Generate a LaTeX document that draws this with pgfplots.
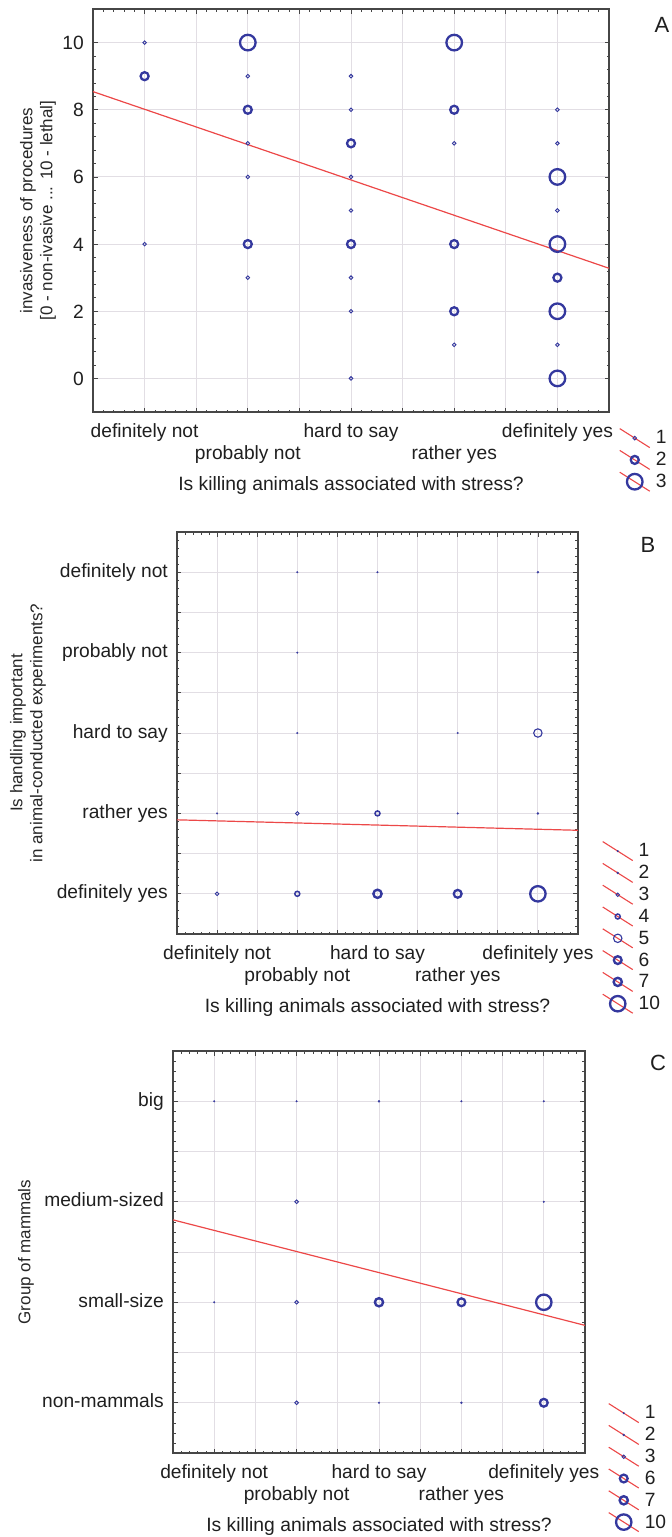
\documentclass[border=0pt]{standalone}
\usepackage{fontspec}
\setmainfont{Liberation Sans}
\usepackage{pgfplots}
\pgfplotsset{compat=1.18}
\definecolor{ptblue}{RGB}{52,56,158}
\definecolor{regred}{RGB}{236,72,72}
\definecolor{gridc}{RGB}{226,222,228}
\definecolor{axc}{RGB}{70,70,70}
\newcommand\tickfont{\fontsize{19.2}{22}\selectfont}
\newcommand\labfont{\fontsize{17}{20}\selectfont}
\newcommand\xlabfont{\fontsize{19.3}{22}\selectfont}
\pgfplotsset{
  panel/.style={
    scale only axis, anchor=north west,
    axis line style={draw=axc, line width=1.1pt},
    every tick/.style={draw=axc, line width=0.7pt},
    major tick length=4.5pt, minor tick length=2.5pt,
    tick align=inside, xtick pos=both, ytick pos=both,
    xticklabel pos=lower, yticklabel pos=left,
    grid=major, major grid style={draw=gridc, line width=0.9pt},
    minor x tick num=4, minor y tick num=4,
    ticklabel style={font=\tickfont, text=black!88},
    xticklabel style={anchor=north, inner sep=0pt, text height=14pt, text depth=4pt, yshift=-11pt},
    yticklabel style={anchor=east, inner sep=0pt, text height=14pt, text depth=4pt, xshift=-9pt},
    xlabel style={at={([yshift=-78pt]axis description cs:0.5,0)}, anchor=base, inner sep=0pt, font=\xlabfont, text=black!88},
    ylabel style={anchor=center, align=center, inner sep=0pt, font=\labfont, text=black!85},
    every axis title shift=0pt,
    title style={anchor=center, font=\fontsize{22}{22}\selectfont, text=black!88},
    legend style={draw=none, fill=none, inner sep=0pt, row sep=0pt, column sep=3pt,
       at={(1,0)}, anchor=north west, font=\tickfont, text=black!88, cells={anchor=west}, nodes={inner sep=2pt}},
    xmin=0.5, xmax=5.5,
    xtick={0.5,1,1.5,2,2.5,3,3.5,4,4.5,5,5.5},
    xticklabels={{},definitely not,{},\raisebox{-22pt}{probably not},{},hard to say,{},\raisebox{-22pt}{rather yes},{},definitely yes,{}},
    xlabel={Is killing animals associated with stress?},
  },
  regl/.style={regred, line width=1.2pt, no marks, forget plot},
  c1/.style={only marks, mark=*, color=ptblue, mark size=0.9pt, mark options={line width=0.2pt}},
  c2/.style={only marks, mark=*, color=ptblue, mark size=1.1pt, mark options={line width=0.2pt}},
  c3/.style={only marks, mark=o, color=ptblue, mark size=1.8pt, mark options={line width=0.9pt}},
  c4/.style={only marks, mark=o, color=ptblue, mark size=2.5pt, mark options={line width=1.5pt}},
  c5/.style={only marks, mark=o, color=ptblue, mark size=4.2pt, mark options={line width=1.1pt}},
  c6/.style={only marks, mark=o, color=ptblue, mark size=3.9pt, mark options={line width=2.3pt}},
  c7/.style={only marks, mark=o, color=ptblue, mark size=4.1pt, mark options={line width=2.4pt}},
  c10/.style={only marks, mark=o, color=ptblue, mark size=7.7pt, mark options={line width=2.3pt}},
  a1/.style={only marks, mark=o, color=ptblue, mark size=1.8pt, mark options={line width=0.9pt}},
  a2/.style={only marks, mark=o, color=ptblue, mark size=4.0pt, mark options={line width=2.3pt}},
  a3/.style={only marks, mark=o, color=ptblue, mark size=7.8pt, mark options={line width=2.3pt}},
}
\pgfplotsset{
  legend image code/.code={
    \pgfpathrectangle{\pgfpoint{0pt}{-10.9pt}}{\pgfpoint{31pt}{21.8pt}}\pgfusepath{discard}
    \draw[regred, line width=1.1pt] (0pt,9.5pt) -- (30pt,-9.5pt);
    \draw[#1, only marks] plot coordinates {(15pt,0pt)};
  },
}
\begin{document}
\begin{tikzpicture}
\useasboundingbox (0pt,0pt) rectangle (672pt,-1537pt);
% ---------------- A
\begin{axis}[panel, at={(93pt,-9pt)}, width=516pt, height=403pt,
  ymin=-1, ymax=11,
  ytick={0,2,4,6,8,10}, yticklabels={0,2,4,6,8,10},
  yticklabel style={text depth=0pt},
  ylabel={invasiveness of procedures\\{[0 - non-ivasive ... 10 - lethal]}},
  ylabel style={at={([xshift=-55pt]axis description cs:0,0.5)}},
  title={A}, title style={at={([xshift=53pt,yshift=-16pt]axis description cs:1,1)}},
  legend style={xshift=10pt, yshift=-15pt},
]
\addplot[regl] coordinates {(0.5,8.54) (5.5,3.28)};
\addplot[a1] coordinates {(1,10) (1,4) (2,9) (2,7) (2,6) (2,3) (3,9) (3,8) (3,6) (3,5) (3,3) (3,2) (3,0) (4,7) (4,1) (5,8) (5,7) (5,5) (5,1)};
\addlegendentry{1}
\addplot[a2] coordinates {(1,9) (2,8) (2,4) (3,7) (3,4) (4,8) (4,4) (4,2) (5,3)};
\addlegendentry{2}
\addplot[a3] coordinates {(2,10) (4,10) (5,6) (5,4) (5,2) (5,0)};
\addlegendentry{3}
\end{axis}
% ---------------- B
\begin{axis}[panel, at={(177pt,-532pt)}, width=401pt, height=402pt,
  ymin=0.5, ymax=5.5,
  ytick={0.5,1,1.5,2,2.5,3,3.5,4,4.5,5,5.5},
  yticklabels={{},definitely yes,{},rather yes,{},hard to say,{},probably not,{},definitely not,{}},
  ylabel={Is handling important\\in animal-conducted experiments?},
  ylabel style={at={([xshift=-149pt]axis description cs:0,0.5)}},
  title={B}, title style={at={([xshift=70pt,yshift=-13pt]axis description cs:1,1)}},
  legend style={xshift=24pt, yshift=94pt},
]
\addplot[regl] coordinates {(0.5,1.92) (5.5,1.79)};
\addplot[c1] coordinates {(2,5) (3,5) (2,4) (2,3) (4,3) (1,2) (4,2)};
\addlegendentry{1}
\addplot[c2] coordinates {(5,5) (5,2)};
\addlegendentry{2}
\addplot[c3] coordinates {(1,1) (2,2)};
\addlegendentry{3}
\addplot[c4] coordinates {(2,1) (3,2)};
\addlegendentry{4}
\addplot[c5] coordinates {(5,3)};
\addlegendentry{5}
\addplot[c6] coordinates {(4,1)};
\addlegendentry{6}
\addplot[c7] coordinates {(3,1)};
\addlegendentry{7}
\addplot[c10] coordinates {(5,1)};
\addlegendentry{10}
\end{axis}
% ---------------- C
\begin{axis}[panel, at={(173pt,-1051pt)}, width=412pt, height=402pt,
  ymin=0.5, ymax=4.5,
  ytick={0.5,1,1.5,2,2.5,3,3.5,4,4.5},
  yticklabels={{},non-mammals,{},small-size,{},medium-sized,{},big,{}},
  ylabel={Group of mammals},
  ylabel style={at={([xshift=-147pt]axis description cs:0,0.5)}},
  title={C}, title style={at={([xshift=73pt,yshift=-12pt]axis description cs:1,1)}},
  legend style={xshift=23pt, yshift=51pt},
]
\addplot[regl] coordinates {(0.5,2.82) (5.5,1.77)};
\addplot[c1] coordinates {(1,4) (2,4) (4,4) (5,4) (5,3) (1,2) (3,1)};
\addlegendentry{1}
\addplot[c2] coordinates {(3,4) (4,1)};
\addlegendentry{2}
\addplot[c3] coordinates {(2,3) (2,2) (2,1)};
\addlegendentry{3}
\addplot[c6] coordinates {(4,2) (5,1)};
\addlegendentry{6}
\addplot[c7] coordinates {(3,2)};
\addlegendentry{7}
\addplot[c10] coordinates {(5,2)};
\addlegendentry{10}
\end{axis}
\end{tikzpicture}
\end{document}
